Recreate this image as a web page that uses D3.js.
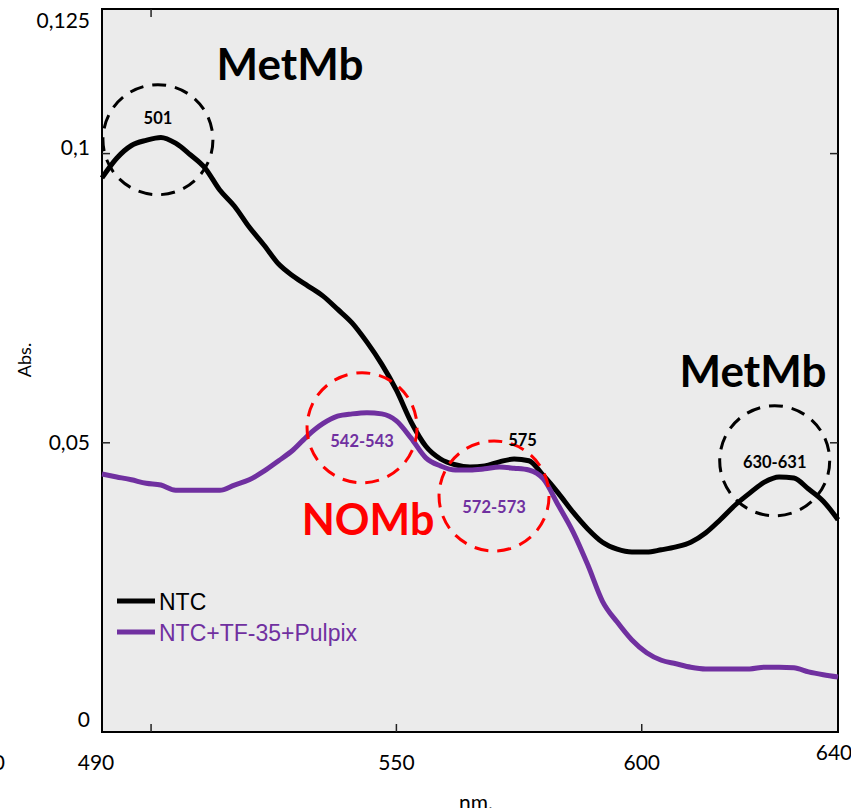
<!DOCTYPE html>
<html>
<head>
<meta charset="utf-8">
<script src="https://cdn.jsdelivr.net/npm/d3@7"></script>
<style>
  body { margin: 0; background: #fff; }
  svg { display: block; }
</style>
</head>
<body>
<div id="vis"></div>
<script>
// Wavelength grid (nm) shared by both spectra
var wavelengths = [490, 493, 496, 499, 502, 505, 508, 511, 514, 517, 520, 523, 526, 529, 532, 535, 538,
  541, 544, 547, 550, 553, 556, 559, 562, 565, 568, 571, 574, 577, 580, 583, 586, 589, 592, 595,
  598, 601, 604, 607, 610, 613, 616, 619, 622, 625, 628, 631, 634, 637, 640];

var ntc = [0.0958, 0.0992, 0.1014, 0.1023, 0.1028, 0.1018, 0.0998, 0.0975, 0.0937, 0.0909, 0.0873,
  0.0842, 0.0809, 0.0788, 0.0771, 0.0754, 0.0731, 0.0707, 0.0674, 0.0636, 0.0591, 0.0536, 0.0494,
  0.0472, 0.0462, 0.0458, 0.0460, 0.0467, 0.0472, 0.0469, 0.0443, 0.0413, 0.0380, 0.0351, 0.0328,
  0.0316, 0.0311, 0.0311, 0.0315, 0.0320, 0.0328, 0.0344, 0.0367, 0.0392, 0.0413, 0.0432, 0.0441,
  0.0439, 0.0420, 0.0399, 0.0367];

var ntcPulpix = [0.0446, 0.0441, 0.0436, 0.0430, 0.0427, 0.0418, 0.0418, 0.0418, 0.0418, 0.0427,
  0.0436, 0.0451, 0.0469, 0.0488, 0.0513, 0.0533, 0.0546, 0.0550, 0.0552, 0.0550, 0.0538, 0.0508,
  0.0474, 0.0460, 0.0453, 0.0453, 0.0455, 0.0458, 0.0456, 0.0453, 0.0437, 0.0392, 0.0346, 0.0289,
  0.0226, 0.0190, 0.0159, 0.0137, 0.0124, 0.0118, 0.0112, 0.0109, 0.0109, 0.0109, 0.0109, 0.0112,
  0.0112, 0.0111, 0.0104, 0.0099, 0.0095];

var seriesNames = ['NTC', 'NTC+TF-35+Pulpix'];
var seriesColors = ['#000000', '#7030a0'];

var xTicks = [500, 550, 600];
var xTickLabels = [490, 550, 600, 640];
var yTicks = [0.05, 0.1];
var yTickLabels = [0, 0.05, 0.1, 0.125];

// peak annotations: [nm, abs, label, circle colour, text colour, text offset]
var peaks = [
  [501.4, 0.1024, '501', '#000', '#000', -22],
  [543.0, 0.0526, '542-543', '#ff0000', '#7030a0', 13],
  [569.9, 0.0408, '572-573', '#ff0000', '#7030a0', 11],
  [627.1, 0.0469, '630-631', '#000', '#000', 1]
];

var width = 851;
var height = 808;
var margin = { left: 102, right: 13, top: 9, bottom: 76 };

var svg = d3.select('#vis').append('svg')
  .attr('width', width)
  .attr('height', height);

var x = d3.scaleLinear().domain([490, 640]).range([margin.left, width - margin.right]);
var y = d3.scaleLinear().domain([0, 0.125]).range([height - margin.bottom, margin.top]);

var font = 'Lato, "Open Sans", sans-serif';

// plot background
svg.append('rect')
  .attr('x', x(490)).attr('y', y(0.125))
  .attr('width', x(640) - x(490)).attr('height', y(0) - y(0.125))
  .attr('fill', '#ebebeb')
  .attr('stroke', '#000').attr('stroke-width', 2);

// inward ticks
var tickLen = 8;
svg.selectAll('.xtick-b').data(xTicks).enter().append('line')
  .attr('x1', function(d) { return x(d); }).attr('x2', function(d) { return x(d); })
  .attr('y1', y(0)).attr('y2', y(0) - tickLen)
  .attr('stroke', '#222').attr('stroke-width', 1.5);
svg.append('line')
  .attr('x1', x(500)).attr('x2', x(500))
  .attr('y1', y(0.125)).attr('y2', y(0.125) + tickLen)
  .attr('stroke', '#222').attr('stroke-width', 1.5);
svg.selectAll('.ytick-l').data(yTicks).enter().append('line')
  .attr('x1', x(490)).attr('x2', x(490) + tickLen)
  .attr('y1', function(d) { return y(d); }).attr('y2', function(d) { return y(d); })
  .attr('stroke', '#222').attr('stroke-width', 1.5);
svg.selectAll('.ytick-r').data(yTicks).enter().append('line')
  .attr('x1', x(640)).attr('x2', x(640) - tickLen)
  .attr('y1', function(d) { return y(d); }).attr('y2', function(d) { return y(d); })
  .attr('stroke', '#222').attr('stroke-width', 1.5);

// tick labels (Excel-style, slightly offset from the ticks)
var fmt = function(d) { return String(d).replace('.', ','); };
var yLabOffset = { 0: -14, 0.05: -1, 0.1: -7, 0.125: 10 };
svg.selectAll('.ylab').data(yTickLabels).enter().append('text')
  .attr('x', 90)
  .attr('y', function(d) { return y(d) + yLabOffset[d]; })
  .attr('text-anchor', 'end')
  .attr('dominant-baseline', 'central')
  .attr('font-family', font).attr('font-size', 21)
  .text(fmt);

svg.selectAll('.xlab').data(xTickLabels).enter().append('text')
  .attr('x', function(d) { return d === 490 ? x(d) - 6 : (d === 640 ? x(d) - 4 : x(d)); })
  .attr('y', function(d) { return d === 640 ? 760 : 770; })
  .attr('text-anchor', 'middle')
  .attr('font-family', font).attr('font-size', 21)
  .text(function(d) { return d; });
// clipped label at the left edge
svg.append('text')
  .attr('x', 5).attr('y', 770)
  .attr('text-anchor', 'end')
  .attr('font-family', font).attr('font-size', 21)
  .text('480');

// axis titles
svg.append('text')
  .attr('transform', 'translate(31,360) rotate(-90)')
  .attr('text-anchor', 'middle')
  .attr('font-family', font).attr('font-size', 18)
  .text('Abs.');
svg.append('text')
  .attr('x', 476).attr('y', 810)
  .attr('text-anchor', 'middle')
  .attr('font-family', font).attr('font-size', 21)
  .text('nm.');

// spectra
var line = d3.line()
  .x(function(d) { return x(d[0]); })
  .y(function(d) { return y(d[1]); })
  .curve(d3.curveMonotoneX);

[ntc, ntcPulpix].forEach(function(vals, i) {
  svg.append('path')
    .datum(wavelengths.map(function(w, j) { return [w, vals[j]]; }))
    .attr('d', line)
    .attr('fill', 'none')
    .attr('stroke', seriesColors[i])
    .attr('stroke-width', 5)
    .attr('stroke-linejoin', 'round');
});

// dashed circles around peaks
svg.selectAll('.peak').data(peaks).enter().append('circle')
  .attr('cx', function(d) { return x(d[0]); })
  .attr('cy', function(d) { return y(d[1]); })
  .attr('r', 55)
  .attr('fill', 'none')
  .attr('stroke', function(d) { return d[3]; })
  .attr('stroke-width', 3)
  .attr('stroke-dasharray', '14 9');

svg.selectAll('.peaklab').data(peaks).enter().append('text')
  .attr('x', function(d) { return x(d[0]); })
  .attr('y', function(d) { return y(d[1]) + d[5]; })
  .attr('text-anchor', 'middle')
  .attr('dominant-baseline', 'central')
  .attr('font-family', font).attr('font-size', 16.5).attr('font-weight', 'bold')
  .attr('fill', function(d) { return d[4]; })
  .text(function(d) { return d[2]; });

svg.append('text')
  .attr('x', x(575.7)).attr('y', y(0.0505))
  .attr('text-anchor', 'middle').attr('dominant-baseline', 'central')
  .attr('font-family', font).attr('font-size', 16.5).attr('font-weight', 'bold')
  .text('575');

// species labels
svg.append('text')
  .attr('x', 290).attr('y', 80)
  .attr('text-anchor', 'middle')
  .attr('font-family', font).attr('font-size', 44).attr('font-weight', 'bold')
  .text('MetMb');
svg.append('text')
  .attr('x', 753).attr('y', 387)
  .attr('text-anchor', 'middle')
  .attr('font-family', font).attr('font-size', 44).attr('font-weight', 'bold')
  .text('MetMb');
svg.append('text')
  .attr('x', 368).attr('y', 535)
  .attr('text-anchor', 'middle')
  .attr('font-family', font).attr('font-size', 43).attr('font-weight', 'bold')
  .attr('fill', '#ff0000')
  .text('NOMb');

// legend
var legend = svg.selectAll('.legend').data(seriesNames).enter().append('g')
  .attr('transform', function(d, i) { return 'translate(117,' + (601 + i * 31) + ')'; });
legend.append('line')
  .attr('x1', 0).attr('x2', 38)
  .attr('stroke', function(d, i) { return seriesColors[i]; })
  .attr('stroke-width', 5);
legend.append('text')
  .attr('x', 42).attr('y', 1)
  .attr('dominant-baseline', 'central')
  .attr('font-family', '"Liberation Sans", Arial, sans-serif')
  .attr('font-size', 23)
  .attr('fill', function(d, i) { return seriesColors[i]; })
  .text(function(d) { return d; });
</script>
</body>
</html>
